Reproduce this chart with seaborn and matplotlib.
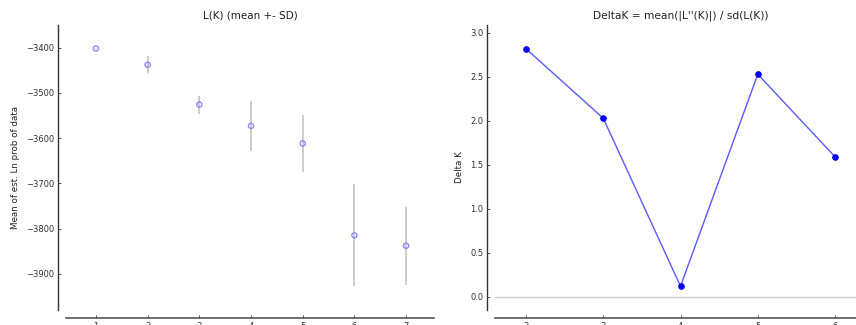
import numpy as np
import pandas as pd
import matplotlib
matplotlib.use("Agg")
import matplotlib.pyplot as plt
import seaborn as sns

# L(K) mean +- SD for each K
k_values = [1, 2, 3, 4, 5, 6, 7]
lk_mean = [-3402, -3438, -3526, -3573, -3612, -3815, -3838]
lk_sd = [1, 19, 20, 56, 64, 113, 86]

# DeltaK for K = 2..6
dk_k = [2, 3, 4, 5, 6]
delta_k = [2.82, 2.03, 0.12, 2.53, 1.59]

sns.set_style("ticks")
plt.rcParams["font.family"] = ["DejaVu Sans"]
plt.rcParams["axes.unicode_minus"] = True

fig = plt.figure(figsize=(8.56, 3.25), dpi=100)
ax1 = fig.add_axes([0.0771, 0.0462, 0.4299, 0.877])
ax2 = fig.add_axes([0.5783, 0.0462, 0.4334, 0.877])

lk = pd.DataFrame({"K": k_values, "mean": lk_mean, "sd": lk_sd})
dk = pd.DataFrame({"K": dk_k, "delta": delta_k})

# left panel: mean +- SD
ax1.vlines(lk["K"], lk["mean"] - lk["sd"], lk["mean"] + lk["sd"],
           color="#c4c4c4", linewidth=1.2, zorder=1)
sns.scatterplot(data=lk, x="K", y="mean", ax=ax1, marker="o", s=14,
                facecolor="none", edgecolor="#8a8aff", linewidth=1.0, zorder=2)
ax1.set_xlim(0.42, 7.54)
ax1.set_ylim(-3980, -3350)
ax1.set_xticks(k_values)
ax1.set_yticks([-3400, -3500, -3600, -3700, -3800, -3900])
ax1.set_title("L(K) (mean +- SD)", fontsize=7.5, pad=5)
ax1.set_xlabel("")
ax1.set_ylabel("Mean of est. Ln prob of data", fontsize=6.3, labelpad=4)

# right panel: DeltaK
ax2.axhline(0, color="#cccccc", linewidth=0.9, zorder=0)
sns.lineplot(data=dk, x="K", y="delta", ax=ax2, color="#5a5aff",
             linewidth=1.0, marker="o", markersize=4,
             markerfacecolor="#0000ff", markeredgecolor="#0000ff")
ax2.set_xlim(1.6, 6.4)
ax2.set_ylim(-0.15, 3.09)
ax2.set_xticks(dk_k)
ax2.set_yticks([0.0, 0.5, 1.0, 1.5, 2.0, 2.5, 3.0])
ax2.set_title("DeltaK = mean(|L''(K)|) / sd(L(K))", fontsize=7.7, pad=5)
ax2.set_xlabel("")
ax2.set_ylabel("Delta K", fontsize=6.3, labelpad=4)

for ax in (ax1, ax2):
    sns.despine(ax=ax, offset=6)
    ax.tick_params(direction="in", length=2.5, width=0.6, labelsize=6,
                   colors="#333333", pad=2.5)
    ax.spines["left"].set_color("#333333")
    ax.spines["bottom"].set_color("#555555")
    ax.spines["left"].set_linewidth(1.0)
    ax.spines["bottom"].set_linewidth(1.2)
    ax.title.set_color("#222222")
    ax.yaxis.label.set_color("#222222")
    ax.grid(False)

fig.savefig("out.png", dpi=100)
